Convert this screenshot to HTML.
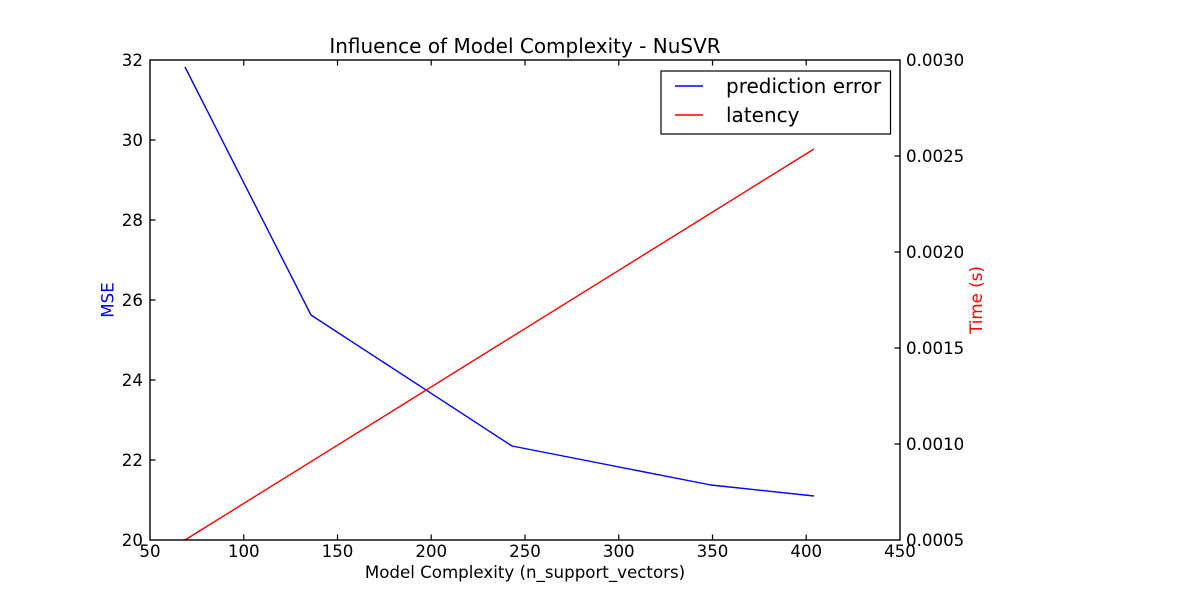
<!DOCTYPE html>
<html><head><meta charset="utf-8"><style>
html,body{margin:0;padding:0;background:#fff;}
svg{display:block;}
text{font-family:"DejaVu Sans","Liberation Sans",sans-serif;}
</style></head><body>
<svg width="1200" height="600" viewBox="0 0 1200 600" xmlns="http://www.w3.org/2000/svg">
<rect width="1200" height="600" fill="#fff"/>
<!-- series -->
<polyline fill="none" stroke="#0000ff" stroke-width="1.4" stroke-linejoin="round" points="185,67 311,315 512,446 711,485 814,496"/>
<polyline fill="none" stroke="#ff0000" stroke-width="1.4" points="185,540 814,149"/>
<!-- axes frame -->
<rect x="150" y="60" width="750" height="480" fill="none" stroke="#000" stroke-width="1.4"/>
<!-- ticks -->
<g stroke="#000" stroke-width="1.2">
<path d="M243.75,540v-5.5M337.5,540v-5.5M431.25,540v-5.5M525,540v-5.5M618.75,540v-5.5M712.5,540v-5.5M806.25,540v-5.5"/>
<path d="M243.75,60v5.5M337.5,60v5.5M431.25,60v5.5M525,60v5.5M618.75,60v5.5M712.5,60v5.5M806.25,60v5.5"/>
<path d="M150,460h5.5M150,380h5.5M150,300h5.5M150,220h5.5M150,140h5.5"/>
<path d="M900,444h-5.5M900,348h-5.5M900,252h-5.5M900,156h-5.5"/>
</g>
<!-- x tick labels -->
<g font-size="16.67" text-anchor="middle" fill="#000">
<text x="150" y="557">50</text>
<text x="243.75" y="557">100</text>
<text x="337.5" y="557">150</text>
<text x="431.25" y="557">200</text>
<text x="525" y="557">250</text>
<text x="618.75" y="557">300</text>
<text x="712.5" y="557">350</text>
<text x="806.25" y="557">400</text>
<text x="900" y="557">450</text>
</g>
<!-- left tick labels -->
<g font-size="16.67" text-anchor="end" fill="#000">
<text x="143" y="546">20</text>
<text x="143" y="466">22</text>
<text x="143" y="386">24</text>
<text x="143" y="306">26</text>
<text x="143" y="226">28</text>
<text x="143" y="146">30</text>
<text x="143" y="66">32</text>
</g>
<!-- right tick labels -->
<g font-size="16.67" text-anchor="start" fill="#000">
<text x="906" y="546">0.0005</text>
<text x="906" y="450">0.0010</text>
<text x="906" y="354">0.0015</text>
<text x="906" y="258">0.0020</text>
<text x="906" y="162">0.0025</text>
<text x="906" y="66">0.0030</text>
</g>
<!-- labels -->
<text x="525" y="578" font-size="16.67" text-anchor="middle" fill="#000">Model Complexity (n_support_vectors)</text>
<text x="525" y="53" font-size="20" text-anchor="middle" fill="#000">Influence of Model Complexity - NuSVR</text>
<text transform="translate(113.5,300) rotate(-90)" font-size="16.67" text-anchor="middle" fill="#0000ff">MSE</text>
<text transform="translate(982,300) rotate(-90)" font-size="16.67" text-anchor="middle" fill="#ff0000">Time (s)</text>
<!-- legend -->
<rect x="661" y="71" width="229.5" height="63" fill="#fff" stroke="#000" stroke-width="1.2"/>
<line x1="675" y1="86" x2="703" y2="86" stroke="#0000ff" stroke-width="1.4"/>
<line x1="675" y1="115" x2="703" y2="115" stroke="#ff0000" stroke-width="1.4"/>
<text x="726" y="93" font-size="20" fill="#000">prediction error</text>
<text x="726" y="122" font-size="20" fill="#000">latency</text>
</svg>
</body></html>
